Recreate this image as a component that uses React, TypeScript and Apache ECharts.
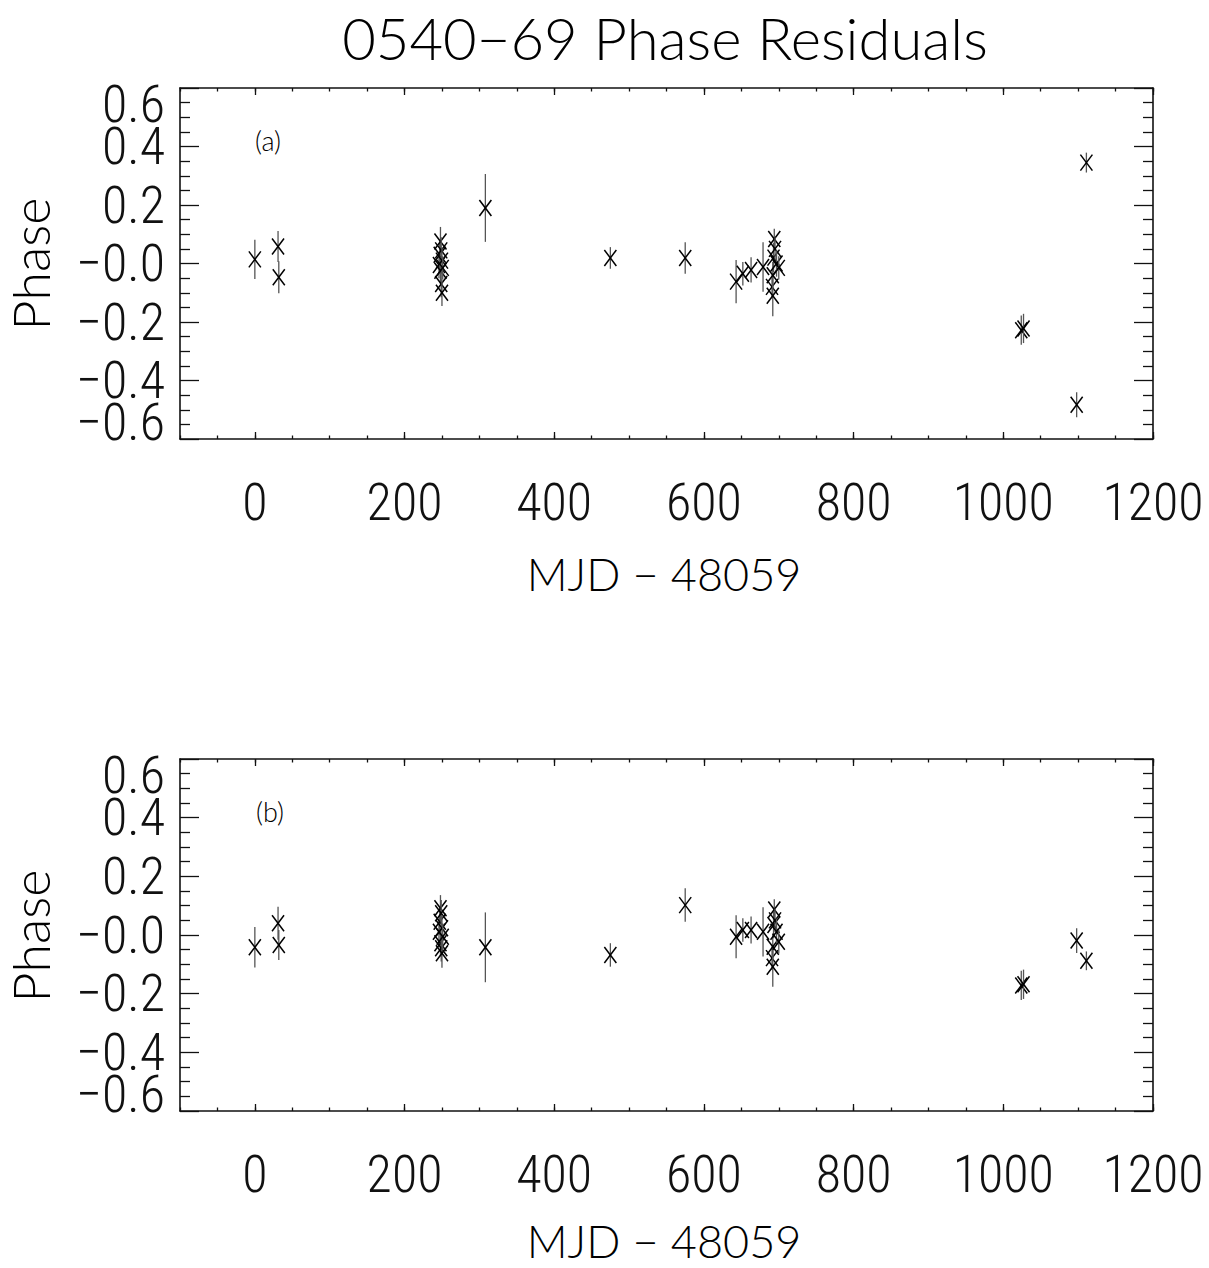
import React, { useEffect, useRef } from 'react';
import * as echarts from 'echarts';

// MJD - 48059 of each timing point
const mjd = [0, 31, 32, 246, 247, 248, 248, 249, 249, 250, 250, 251, 308, 475, 575, 643, 652, 663, 679, 691, 692, 692, 693, 694, 695, 697, 700, 1024, 1027, 1098, 1111];
// panel (a) residuals and errors
const phaseA = [0.014, 0.058, -0.047, -0.005, 0.03, 0.075, -0.025, 0.045, -0.07, 0.01, -0.1, -0.015, 0.19, 0.019, 0.019, -0.062, -0.035, -0.022, -0.012, -0.08, -0.11, -0.04, 0.02, 0.084, 0.05, 0.0, -0.015, -0.228, -0.222, -0.483, 0.345];
const errA = [0.067, 0.053, 0.055, 0.045, 0.045, 0.05, 0.045, 0.045, 0.045, 0.045, 0.045, 0.04, 0.116, 0.037, 0.054, 0.074, 0.04, 0.043, 0.085, 0.04, 0.07, 0.045, 0.05, 0.035, 0.04, 0.045, 0.04, 0.05, 0.05, 0.043, 0.034];
// panel (b) residuals and errors
const phaseB = [-0.042, 0.04, -0.034, 0.011, 0.045, 0.091, -0.028, 0.074, -0.045, 0.023, -0.062, -0.006, -0.042, -0.068, 0.102, -0.006, 0.017, 0.017, 0.011, -0.079, -0.108, -0.04, 0.034, 0.087, 0.05, 0.011, -0.023, -0.172, -0.168, -0.019, -0.088];
const errB = [0.069, 0.056, 0.051, 0.045, 0.045, 0.045, 0.045, 0.045, 0.045, 0.045, 0.05, 0.045, 0.119, 0.04, 0.057, 0.073, 0.04, 0.046, 0.084, 0.04, 0.068, 0.045, 0.045, 0.035, 0.04, 0.045, 0.04, 0.05, 0.05, 0.042, 0.032];

const xTicks = [0, 200, 400, 600, 800, 1000, 1200];
const yInnerTicks = [-0.4, -0.2, 0, 0.2, 0.4];
const yEdgeTicks = [-0.6, 0.6];
const xMin = -100;
const xMax = 1200;
const yMin = -0.6;
const yMax = 0.6;

const TICK_FONT = "'Roboto Condensed', 'Liberation Sans Narrow', 'DejaVu Sans Condensed', sans-serif";
const NAME_FONT = "Lato, 'Liberation Sans', sans-serif";

const fmtY = (v: number) => {
  const s = Math.abs(v).toFixed(1);
  return v > 1e-6 ? s : '\u2212' + s;
};

export default function App() {
  const ref = useRef<HTMLDivElement>(null);
  useEffect(() => {
    if (!ref.current) return;
    const chart = echarts.init(ref.current, null, { renderer: 'svg' });
    const grids = [
      { left: 180, top: 88, width: 973, height: 351 },
      { left: 180, top: 759, width: 973, height: 352 },
    ];
    const axisLine = { show: true, onZero: false, lineStyle: { color: '#111', width: 1.6 } };
    const noLine = { show: false, onZero: false };
    const tickStyle = { color: '#111', width: 1.3 };
    const labelFont = { fontFamily: TICK_FONT, fontWeight: 300, fontSize: 52, color: '#111' };
    const xAxes: any[] = [];
    const yAxes: any[] = [];
    grids.forEach((_, g) => {
      const base = { type: 'value', gridIndex: g, min: xMin, max: xMax, splitLine: { show: false } };
      // bottom major with labels
      xAxes.push({
        ...base,
        position: 'bottom',
        axisLine,
        axisTick: { show: true, inside: true, length: 7, customValues: xTicks, lineStyle: tickStyle },
        axisLabel: {
          show: true, customValues: xTicks, margin: 37, hideOverlap: false,
          formatter: (v: number) => String(v), ...labelFont,
        },
      });
      // bottom minor
      xAxes.push({
        ...base, position: 'bottom', interval: 50,
        axisLine: noLine,
        axisTick: { show: true, inside: true, length: 3.5, lineStyle: tickStyle },
        axisLabel: { show: false },
      });
      // top major
      xAxes.push({
        ...base, position: 'top',
        axisLine,
        axisTick: { show: true, inside: true, length: 7, customValues: xTicks, lineStyle: tickStyle },
        axisLabel: { show: false },
      });
      // top minor
      xAxes.push({
        ...base, position: 'top', interval: 50,
        axisLine: noLine,
        axisTick: { show: true, inside: true, length: 3.5, lineStyle: tickStyle },
        axisLabel: { show: false },
      });
      const yBase = {
        type: 'value', gridIndex: g, min: yMin, max: yMax, interval: 0.2,
        splitLine: { show: false }, minorSplitLine: { show: false },
        axisLine,
        axisTick: { show: true, inside: true, length: 19, lineStyle: tickStyle },
        minorTick: { show: true, splitNumber: 4, length: 10, lineStyle: tickStyle },
      };
      // left axis: ticks and inner labels
      yAxes.push({
        ...yBase, position: 'left',
        axisLabel: {
          show: true, formatter: fmtY, margin: 15, customValues: yInnerTicks,
          hideOverlap: false, lineHeight: 36, ...labelFont,
        },
      });
      // right mirror axis
      yAxes.push({ ...yBase, position: 'right', axisLabel: { show: false } });
      // left edge labels (±0.6), pushed inward as in the original
      yAxes.push({
        type: 'value', gridIndex: g, min: yMin, max: yMax, position: 'left',
        splitLine: { show: false }, axisLine: noLine, axisTick: { show: false }, minorTick: { show: false },
        axisLabel: {
          show: true, formatter: fmtY, margin: 15, customValues: yEdgeTicks,
          showMinLabel: true, showMaxLabel: true, hideOverlap: false, lineHeight: 33,
          verticalAlignMaxLabel: 'top', verticalAlignMinLabel: 'bottom', ...labelFont,
        },
      });
    });

    const renderItem = (params: any, api: any) => {
      const x = api.value(0);
      const y = api.value(1);
      const e = api.value(2);
      const c = api.coord([x, y]);
      const t = api.coord([x, y + e]);
      const b = api.coord([x, y - e]);
      const mark = { stroke: '#000', lineWidth: 1.5 };
      return {
        type: 'group',
        children: [
          { type: 'line', shape: { x1: c[0], y1: t[1], x2: c[0], y2: b[1] }, style: { stroke: '#555', lineWidth: 1.3 } },
          { type: 'line', shape: { x1: c[0] - 6, y1: c[1] - 8, x2: c[0] + 6, y2: c[1] + 8 }, style: mark },
          { type: 'line', shape: { x1: c[0] - 6, y1: c[1] + 8, x2: c[0] + 6, y2: c[1] - 8 }, style: mark },
        ],
      };
    };

    const dataA = mjd.map((m, i) => [m, phaseA[i], errA[i]]);
    const dataB = mjd.map((m, i) => [m, phaseB[i], errB[i]]);

    const txt = (text: string, x: number, y: number, size: number, rotation = 0) => ({
      type: 'text', x, y, rotation, z: 100,
      style: {
        text, fill: '#000', fontFamily: NAME_FONT, fontSize: size, fontWeight: 300, lineHeight: size * 0.8,
        align: 'center', verticalAlign: 'middle', textAlign: 'center', textVerticalAlign: 'middle',
      },
    });

    chart.setOption({
      animation: false,
      backgroundColor: '#fff',
      grid: grids,
      xAxis: xAxes,
      yAxis: yAxes,
      graphic: [
        txt('0540\u221269 Phase Residuals', 665, 37, 58),
        txt('(a)', 268, 140, 27),
        txt('(b)', 270, 811, 27),
        txt('MJD \u2212 48059', 664, 574, 45),
        txt('MJD \u2212 48059', 664, 1241, 45),
        txt('Phase', 30, 264, 52, Math.PI / 2),
        txt('Phase', 30, 936, 52, Math.PI / 2),
      ],
      series: [
        { type: 'custom', xAxisIndex: 0, yAxisIndex: 0, renderItem, data: dataA, encode: { x: 0, y: 1 }, clip: false },
        { type: 'custom', xAxisIndex: 4, yAxisIndex: 3, renderItem, data: dataB, encode: { x: 0, y: 1 }, clip: false },
      ],
    });
    return () => chart.dispose();
  }, []);
  return <div ref={ref} style={{ position: 'absolute', left: 0, top: 0, width: 1209, height: 1268 }} />;
}
